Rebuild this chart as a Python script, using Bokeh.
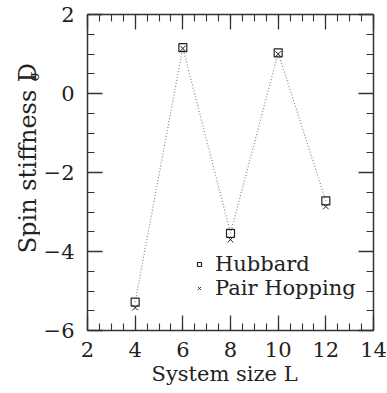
import math
from bokeh.plotting import figure
from bokeh.layouts import row
from bokeh.models import (Range1d, LinearAxis, SingleIntervalTicker, Legend,
                          LegendItem, ColumnDataSource, CustomJSTickFormatter, Title)
from bokeh.core.properties import value
from bokeh.embed import file_html
from bokeh.resources import INLINE

# ---- data ----
L = [4, 6, 8, 10, 12]
hubbard = [-5.28, 1.16, -3.54, 1.03, -2.72]
pair_hopping = [-5.42, 1.14, -3.70, 1.00, -2.86]
x_ticks = [2, 4, 6, 8, 10, 12, 14]
y_ticks = [-6, -4, -2, 0, 2]
y_tick_labels = ["\u22126", "\u22124", "\u22122", "0", "2"]
x_title = "System size L"
y_title = "Spin stiffness D"
y_title_sub = "\u03c3"

FONT = "DejaVu Serif"
INK = "#333333"
TXT = "#222222"

LW = 40              # width of the side strip holding the y title
SH = 391             # height of the side strip

p = figure(frame_width=286, frame_height=316, output_backend="svg",
           toolbar_location=None, x_range=Range1d(2, 14), y_range=Range1d(-6, 2),
           min_border_left=86 - LW, min_border_right=14, min_border_top=14,
           min_border_bottom=0, x_axis_location=None, y_axis_location=None)
p.grid.visible = False
p.outline_line_color = None

def style(ax, labels):
    ax.ticker = SingleIntervalTicker(interval=2, num_minor_ticks=4)
    ax.major_tick_in = 15
    ax.major_tick_out = 0
    ax.minor_tick_in = 7
    ax.minor_tick_out = 0
    ax.axis_line_color = INK
    ax.axis_line_width = 1.5
    ax.major_tick_line_color = INK
    ax.major_tick_line_width = 1.3
    ax.minor_tick_line_color = INK
    ax.minor_tick_line_width = 1.1
    if labels:
        ax.major_label_text_font = FONT
        ax.major_label_text_font_size = "21px"
        ax.major_label_text_color = TXT
    else:
        ax.formatter = CustomJSTickFormatter(code="return ''")
        ax.major_label_standoff = 0

bottom = LinearAxis()
style(bottom, True)
bottom.major_label_standoff = 11
p.add_layout(bottom, "below")

left = LinearAxis()
style(left, True)
left.major_label_standoff = 13
left.major_label_overrides = {t: s for t, s in zip(y_ticks, y_tick_labels)}
p.add_layout(left, "left")

top = LinearAxis()
style(top, False)
p.add_layout(top, "above")
right = LinearAxis()
style(right, False)
p.add_layout(right, "right")

p.add_layout(Title(text=x_title, align="left", offset=64, standoff=0,
                   text_font=FONT, text_font_size="21px",
                   text_font_style="normal", text_color=TXT), "below")

src = ColumnDataSource(dict(L=L, h=hubbard, ph=pair_hopping))
p.line("L", "h", source=src, line_color="#888888", line_width=1.2, line_dash="1 2")
r1 = p.scatter("L", "h", source=src, marker="square", size=8, fill_color=None,
               line_color=TXT, line_width=1.2)
r2 = p.scatter("L", "ph", source=src, marker="x", size=8,
               line_color=TXT, line_width=1.0)

legend = Legend(items=[LegendItem(label="Hubbard", renderers=[r1]),
                       LegendItem(label="Pair Hopping", renderers=[r2])],
                location=(107, 30), margin=0, padding=0, spacing=0,
                glyph_width=10, glyph_height=20, label_height=20,
                label_standoff=11, label_text_font=FONT,
                label_text_font_size="21px", label_text_color=TXT,
                background_fill_alpha=0, border_line_color=None)
p.add_layout(legend, "center")

# side strip with the rotated y title (coordinates = pixels of the strip)
s = figure(width=LW, height=SH, output_backend="svg", toolbar_location=None,
           x_range=Range1d(0, LW), y_range=Range1d(0, SH), min_border=0,
           x_axis_location=None, y_axis_location=None)
s.grid.visible = False
s.outline_line_color = None
s.text(x=[27], y=[SH - 290], text=[y_title], angle=math.pi / 2,
       text_font=value(FONT), text_font_size="24px", text_align="left",
       text_baseline="alphabetic", text_color=TXT)
s.text(x=[33], y=[SH - 81], text=[y_title_sub], angle=math.pi / 2,
       text_font=value(FONT), text_font_size="14px", text_align="left",
       text_baseline="alphabetic", text_color=TXT)

layout = row(s, p, spacing=0)
open("out.html", "w").write(file_html(layout, INLINE))
